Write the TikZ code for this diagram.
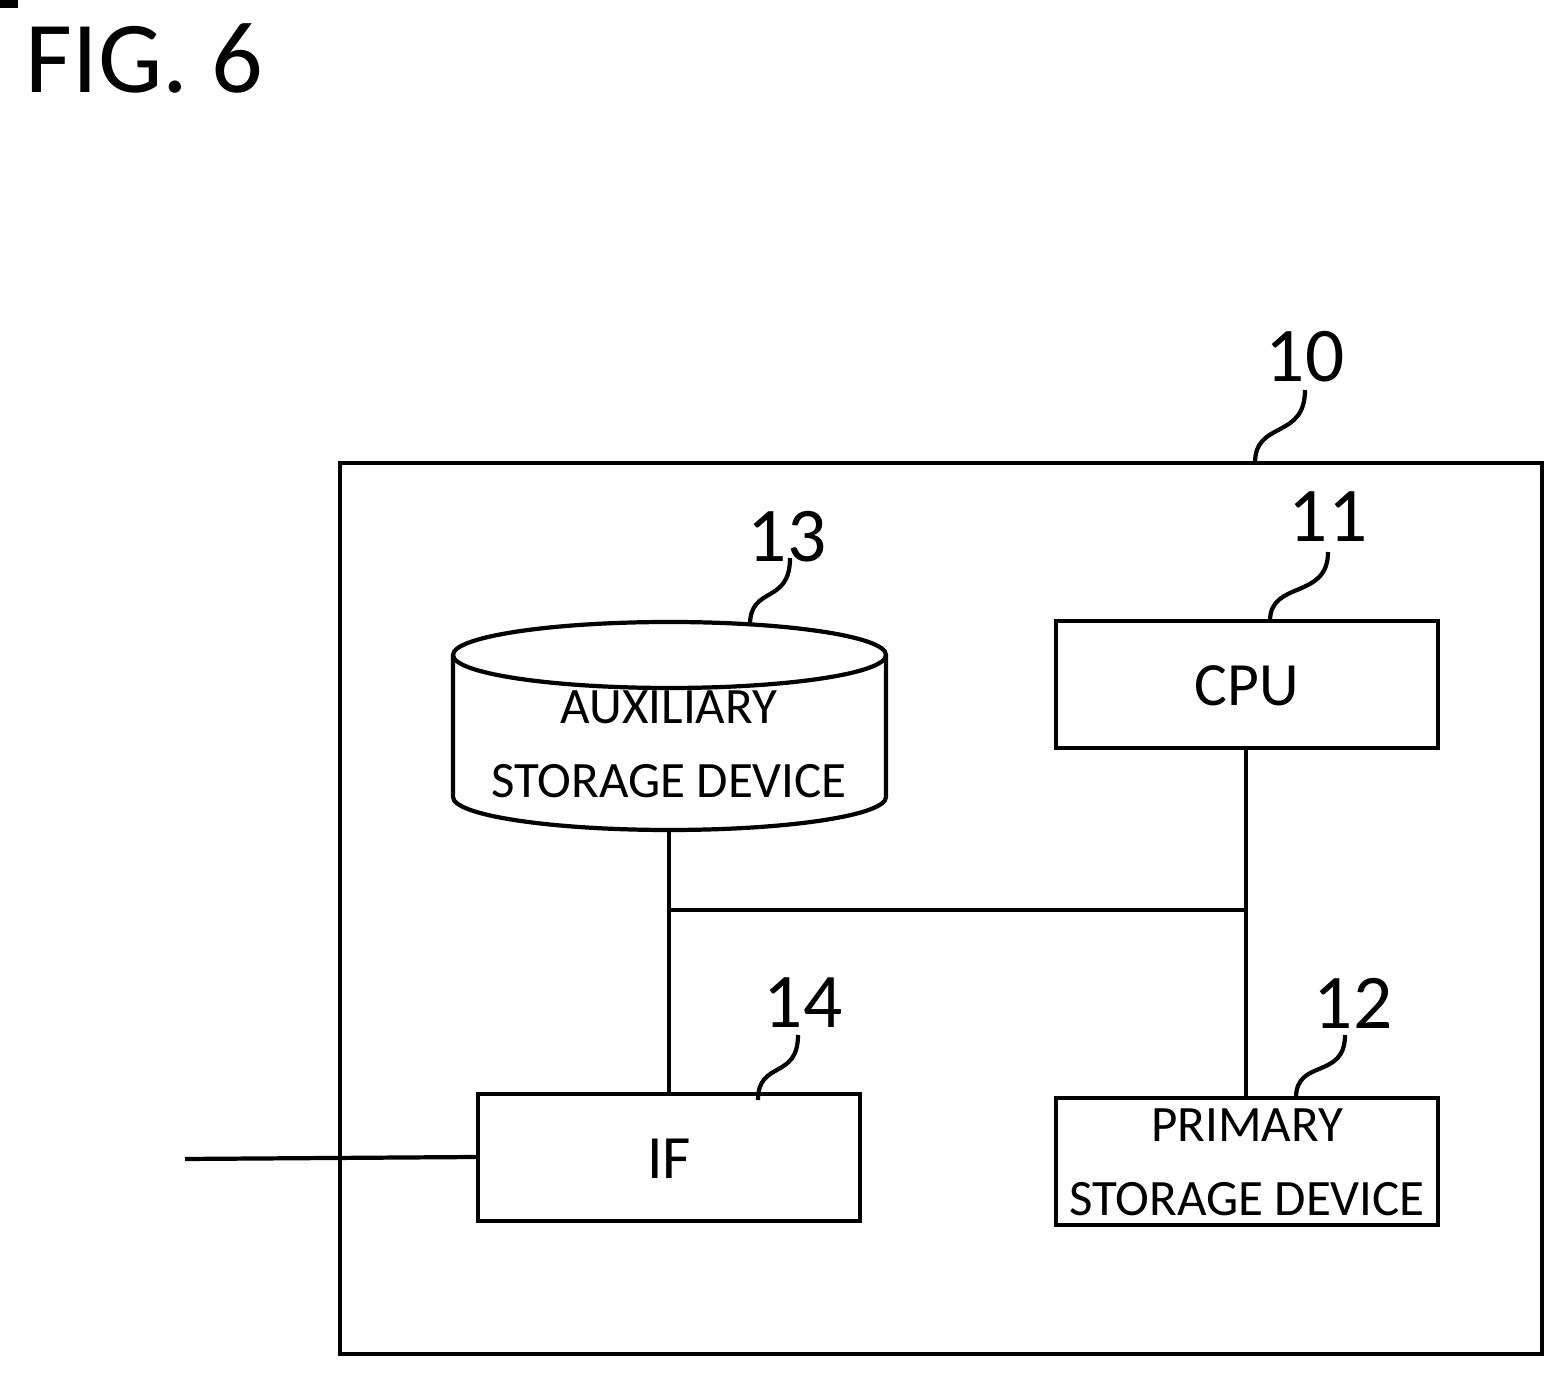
\documentclass[tikz,border=0pt]{standalone}
\usepackage{fontspec}
\setmainfont{Carlito}
\begin{document}
\begin{tikzpicture}[x=0.01cm,y=-0.01cm,line width=1.2pt,
  box/.style={draw,rectangle,inner sep=0pt},
  lbl/.style={font=\fontsize{14.5}{21}\selectfont,align=center},
  num/.style={font=\fontsize{22}{22}\selectfont}]
\useasboundingbox (0,0) rectangle (1566,1377);
\node[anchor=west,font=\fontsize{29}{29}\selectfont] (fig) at (12,58) {FIG. 6};
\draw (340,463) rectangle (1542,1354);
\node[box,minimum width=382\pgflinewidth/120,anchor=north west] at (0,0) {};
\coordinate (cpuNW) at (1056,621); \coordinate (cpuSE) at (1438,748);
\draw (cpuNW) rectangle (cpuSE);
\node[font=\fontsize{17.5}{20}\selectfont] (cpu) at (1247,686) {CPU};
\draw (1056,1098) rectangle (1438,1225);
\node[lbl] (prim) at (1247,1162) {PRIMARY\\STORAGE DEVICE};
\draw (478,1094) rectangle (860,1221);
\node[font=\fontsize{17.5}{20}\selectfont] (if) at (669,1159) {IF};
% cylinder
\draw (453,655) -- (453,797) arc[start angle=180,end angle=360,x radius=216.5,y radius=-33] -- (886,655);
\draw (669.5,655) ellipse [x radius=216.5,y radius=33];
\node[lbl] (aux) at (669,744) {AUXILIARY\\STORAGE DEVICE};
\coordinate (auxB) at (669,830);
\coordinate (ifT) at (669,1094);
\coordinate (cpuB) at (1246,748);
\coordinate (primT) at (1246,1098);
\coordinate (j1) at (669,910); \coordinate (j2) at (1246,910);
\draw (auxB) -- (ifT);
\draw (cpuB) -- (primT);
\draw (j1) -- (j2);
\coordinate (ext) at (185,1159);
\draw (ext) -- (478,1157);
% labels with leaders
\node[num] (n10) at (1305,357) {10};
\draw (1255,463) .. controls (1255,420) and (1305,440) .. (1305,390);
\node[num] (n11) at (1328,517) {11};
\draw (1270,621) .. controls (1270,580) and (1328,600) .. (1328,552);
\node[num] (n13) at (787,537) {13};
\draw (750,625) .. controls (750,585) and (790,605) .. (790,558);
\node[num] (n14) at (803,1003) {14};
\draw (758,1100) .. controls (758,1060) and (798,1080) .. (798,1035);
\node[num] (n12) at (1353,1003) {12};
\draw (1296,1098) .. controls (1296,1058) and (1345,1080) .. (1345,1035);
\end{tikzpicture}
\end{document}
